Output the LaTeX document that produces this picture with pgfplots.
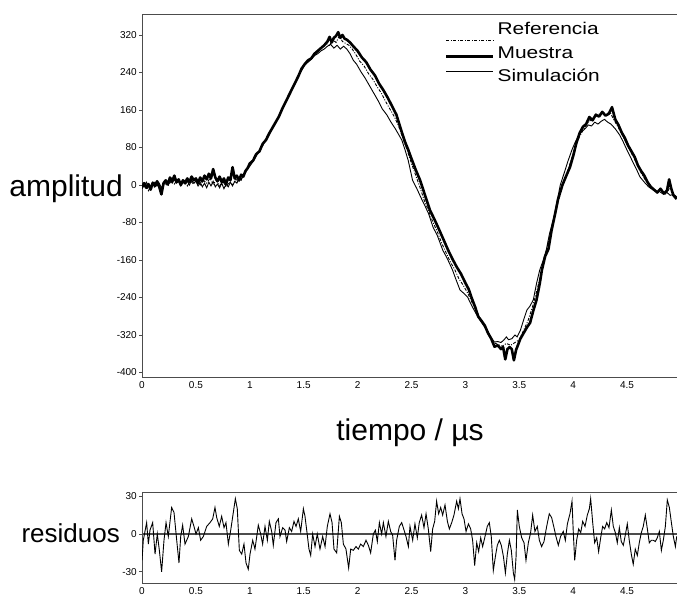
\documentclass[border=0pt]{standalone}
\usepackage{pgfplots}
\pgfplotsset{compat=1.18}
\usepackage{fontspec}
\setmainfont{Liberation Sans}
\newfontfamily\legfont{Liberation Sans}[FakeStretch=1.23]
\definecolor{axgray}{gray}{0.3}
\pgfplotsset{
  legA/.style={legend image code/.code={\draw[##1] (0bp,-10bp) -- (47bp,-10bp); \path (49bp,0bp);}},
  legB/.style={legend image code/.code={\draw[##1] (0bp,-2bp) -- (47bp,-2bp); \path (49bp,0bp);}},
  legC/.style={legend image code/.code={\draw[##1] (0bp,6bp) -- (47bp,6bp); \path (49bp,0bp);}},
  myaxis/.style={
    scale only axis, anchor=south west,
    width=535bp, xmin=0, xmax=4.963,
    axis x line=box, axis y line=left,
    axis line style={-, draw=axgray, line width=0.9bp},
    every outer x axis line/.append style={-},
    every outer y axis line/.append style={-},
    every inner x axis line/.append style={-},
    every inner y axis line/.append style={-},
    tick align=outside, major tick length=3bp,
    xtick pos=bottom, ytick pos=left,
    xtick style={draw=none}, ytick style={draw=axgray, line width=0.8bp},
    xtick={0,0.5,1,1.5,2,2.5,3,3.5,4,4.5},
    xticklabels={0,0.5,1,1.5,2,2.5,3,3.5,4,4.5},
    ticklabel style={font=\fontsize{10bp}{12bp}\selectfont},
    xticklabel style={yshift=2bp},
    yticklabel style={inner sep=2bp},
    clip=true,
  }
}
\begin{document}
\begin{tikzpicture}
\useasboundingbox (0,0) rectangle (677bp,601bp);
\begin{axis}[myaxis, at={(142bp,224bp)}, height=363bp,
  ymin=-409.6, ymax=364.8,
  ytick={-400,-320,-240,-160,-80,0,80,160,240,320},
  yticklabels={-400,-320,-240,-160,-80,0,80,160,240,320},
  legend style={draw=none, fill=none, at={(0.566,0.981)}, anchor=north west,
    inner sep=0pt, row sep=4.5bp, column sep=0bp,
    font=\legfont\fontsize{17bp}{20bp}\selectfont,
    nodes={inner sep=1bp, text height=12.5bp, text depth=4bp}},
  legend cell align=left,
]
\addplot[black, line width=0.9bp, dash pattern=on 3bp off 1.5bp on 1bp off 1.5bp, legA] coordinates {
(0.00,-8) (0.03,4) (0.06,-12) (0.09,2) (0.12,-6) (0.15,6) (0.18,-10) (0.21,4) (0.24,-2) (0.27,8)
(0.30,2) (0.33,12) (0.36,4) (0.39,10) (0.42,-2) (0.45,8) (0.48,2) (0.51,12) (0.54,0) (0.57,10)
(0.60,4) (0.63,14) (0.66,2) (0.69,10) (0.72,-2) (0.75,8) (0.78,-4) (0.81,6) (0.84,0) (0.87,12)
(0.90,8) (0.93,16) (0.96,26) (0.99,40) (1.02,48) (1.05,62) (1.08,70) (1.11,84) (1.14,94) (1.17,108)
(1.20,116) (1.23,130) (1.26,142) (1.29,156) (1.32,170) (1.35,184) (1.38,200) (1.41,212) (1.44,228) (1.47,240)
(1.50,254) (1.53,262) (1.56,266) (1.59,274) (1.62,282) (1.65,290) (1.68,296) (1.71,302) (1.74,298) (1.77,310)
(1.80,304) (1.83,318) (1.86,306) (1.89,302) (1.92,298) (1.95,290) (1.98,280) (2.02,264) (2.06,254) (2.10,238)
(2.14,226) (2.18,210) (2.22,196) (2.26,178) (2.30,162) (2.34,146) (2.38,126) (2.42,100) (2.46,74) (2.50,46)
(2.54,20) (2.58,-6) (2.62,-34) (2.66,-56) (2.70,-80) (2.74,-100) (2.78,-124) (2.82,-144) (2.86,-164) (2.90,-180)
(2.94,-200) (2.98,-214) (3.02,-230) (3.06,-250) (3.10,-268) (3.14,-286) (3.18,-298) (3.22,-318) (3.26,-336) (3.30,-340)
(3.34,-344) (3.38,-338) (3.42,-342) (3.46,-336) (3.50,-330) (3.54,-310) (3.58,-290) (3.62,-262) (3.66,-228) (3.70,-190)
(3.74,-150) (3.78,-112) (3.82,-72) (3.86,-36) (3.90,-4) (3.94,24) (3.98,52) (4.02,82) (4.06,104) (4.10,120)
(4.14,134) (4.18,142) (4.22,148) (4.26,154) (4.30,150) (4.34,156) (4.38,138) (4.42,122) (4.46,104) (4.50,86)
(4.54,68) (4.58,50) (4.62,30) (4.66,14) (4.70,0) (4.74,-8) (4.78,-14) (4.82,-10) (4.86,-20) (4.90,-4)
(4.93,-18) (4.96,-28)};
\addlegendentry{Referencia}
\addplot[black, line width=2.6bp, line join=round, legB] coordinates {
(0.00,-4) (0.02,4) (0.04,-6) (0.06,2) (0.08,-10) (0.10,5) (0.12,-2) (0.14,8) (0.16,-4) (0.18,-20)
(0.20,4) (0.22,10) (0.24,2) (0.26,16) (0.28,8) (0.30,20) (0.32,6) (0.34,12) (0.36,0) (0.38,10)
(0.40,4) (0.42,14) (0.44,6) (0.46,18) (0.48,10) (0.50,14) (0.52,4) (0.54,16) (0.56,8) (0.58,20)
(0.60,12) (0.62,24) (0.64,14) (0.66,34) (0.68,16) (0.70,8) (0.72,18) (0.74,6) (0.76,14) (0.78,2)
(0.80,16) (0.82,10) (0.84,38) (0.86,14) (0.88,20) (0.90,10) (0.92,22) (0.94,18) (0.96,30) (0.98,36)
(1.00,46) (1.03,52) (1.06,66) (1.09,72) (1.12,88) (1.15,96) (1.18,110) (1.21,122) (1.24,134) (1.27,146)
(1.30,162) (1.33,176) (1.36,190) (1.39,204) (1.42,218) (1.45,232) (1.48,248) (1.51,258) (1.54,266) (1.57,270)
(1.60,280) (1.63,286) (1.66,292) (1.69,298) (1.72,306) (1.74,316) (1.76,304) (1.78,314) (1.80,318) (1.82,326)
(1.84,314) (1.86,320) (1.88,312) (1.90,310) (1.93,304) (1.96,296) (2.00,286) (2.04,272) (2.08,262) (2.12,246)
(2.16,234) (2.20,216) (2.24,202) (2.28,186) (2.32,168) (2.36,150) (2.40,120) (2.44,92) (2.47,75) (2.50,56)
(2.54,32) (2.58,10) (2.62,-18) (2.67,-53) (2.71,-72) (2.75,-92) (2.80,-118) (2.84,-139) (2.88,-158) (2.92,-175)
(2.96,-190) (3.00,-209) (3.03,-222) (3.06,-242) (3.09,-260) (3.12,-281) (3.15,-290) (3.18,-300) (3.21,-316) (3.24,-328)
(3.27,-345) (3.30,-342) (3.33,-350) (3.35,-346) (3.37,-372) (3.39,-350) (3.41,-346) (3.43,-350) (3.45,-374) (3.47,-352)
(3.49,-340) (3.51,-328) (3.54,-316) (3.57,-304) (3.60,-294) (3.63,-268) (3.66,-245) (3.69,-210) (3.71,-181) (3.74,-152)
(3.77,-137) (3.80,-96) (3.83,-64) (3.86,-30) (3.90,0) (3.94,22) (3.97,38) (4.00,62) (4.03,90) (4.06,111)
(4.09,124) (4.12,130) (4.15,145) (4.18,138) (4.21,150) (4.24,146) (4.27,156) (4.30,148) (4.33,152) (4.36,166)
(4.39,140) (4.42,128) (4.45,112) (4.48,100) (4.51,84) (4.54,72) (4.57,60) (4.60,42) (4.63,30) (4.66,20)
(4.69,6) (4.72,-4) (4.75,-10) (4.78,-16) (4.81,-8) (4.84,-18) (4.87,-12) (4.89,12) (4.91,-8) (4.93,-22)
(4.96,-30)};
\addlegendentry{Muestra}
\addplot[black, line width=0.9bp, legC] coordinates {
(0.00,2) (0.02,-4) (0.04,6) (0.06,-2) (0.08,-8) (0.10,0) (0.12,6) (0.14,-2) (0.16,4) (0.18,-6)
(0.20,2) (0.22,8) (0.24,0) (0.26,10) (0.28,4) (0.30,12) (0.32,4) (0.34,8) (0.36,-2) (0.38,6)
(0.40,2) (0.42,8) (0.44,0) (0.46,10) (0.48,4) (0.50,8) (0.52,-2) (0.54,6) (0.56,-4) (0.58,4)
(0.60,-6) (0.62,6) (0.64,-2) (0.66,8) (0.68,-4) (0.70,2) (0.72,-6) (0.74,4) (0.76,-8) (0.78,2)
(0.80,-4) (0.82,6) (0.84,-2) (0.86,8) (0.88,4) (0.90,14) (0.92,10) (0.94,22) (0.96,28) (0.98,34)
(1.00,40) (1.03,50) (1.06,62) (1.09,74) (1.12,84) (1.15,98) (1.18,108) (1.21,124) (1.24,132) (1.27,148)
(1.30,160) (1.33,178) (1.36,188) (1.39,206) (1.42,216) (1.45,234) (1.48,244) (1.51,256) (1.54,262) (1.57,268)
(1.60,276) (1.63,280) (1.66,286) (1.69,290) (1.72,296) (1.75,300) (1.78,292) (1.81,298) (1.84,290) (1.87,296)
(1.90,290) (1.93,280) (1.96,266) (1.99,258) (2.03,242) (2.07,228) (2.11,212) (2.15,196) (2.19,180) (2.23,162)
(2.27,150) (2.31,134) (2.35,120) (2.38,108) (2.41,96) (2.44,75) (2.47,52) (2.51,10) (2.55,-8) (2.59,-28)
(2.63,-47) (2.66,-62) (2.70,-90) (2.74,-108) (2.79,-139) (2.83,-156) (2.88,-181) (2.91,-200) (2.95,-224) (2.98,-230)
(3.02,-239) (3.06,-258) (3.10,-275) (3.14,-290) (3.17,-300) (3.20,-310) (3.24,-326) (3.27,-335) (3.30,-334) (3.33,-336)
(3.36,-330) (3.38,-324) (3.40,-330) (3.43,-328) (3.46,-320) (3.48,-324) (3.51,-310) (3.54,-288) (3.57,-267) (3.60,-258)
(3.63,-245) (3.66,-210) (3.69,-181) (3.72,-162) (3.75,-139) (3.78,-104) (3.82,-70) (3.85,-36) (3.88,0) (3.92,28)
(3.95,50) (3.99,76) (4.02,92) (4.05,105) (4.08,114) (4.11,120) (4.14,128) (4.17,126) (4.20,134) (4.23,130)
(4.26,136) (4.29,140) (4.32,134) (4.35,130) (4.39,120) (4.43,107) (4.46,94) (4.50,74) (4.53,60) (4.56,46)
(4.59,32) (4.62,17) (4.66,6) (4.70,-4) (4.75,-12) (4.80,-14) (4.84,-20) (4.87,-16) (4.90,-22) (4.93,-20)
(4.96,-25)};
\addlegendentry{Simulación}
\end{axis}
\begin{axis}[myaxis, at={(142bp,18bp)}, height=91bp,
  ymin=-38.9, ymax=33.3,
  ytick={-30,0,30}, yticklabels={-30,0,30},
]
\addplot[axgray, line width=1.2bp] coordinates {(0,0) (4.963,0)};
\addplot[black, line width=0.9bp] coordinates {
(0.000,-21) (0.012,-5) (0.043,9) (0.059,-8) (0.074,3) (0.099,9) (0.121,-16) (0.142,0) (0.161,-13) (0.182,-30)
(0.204,-5) (0.223,9) (0.244,-2) (0.275,21) (0.297,17) (0.322,-5) (0.343,-23) (0.359,-2) (0.377,7) (0.399,-8)
(0.430,-2) (0.461,12) (0.482,6) (0.501,0) (0.523,5) (0.544,-5) (0.569,-2) (0.600,6) (0.631,9) (0.656,12)
(0.677,21) (0.693,13) (0.717,6) (0.739,14) (0.761,5) (0.779,9) (0.801,-8) (0.823,3) (0.847,17) (0.866,28)
(0.884,20) (0.903,-13) (0.925,-16) (0.946,-8) (0.965,-23) (0.986,-28) (1.002,-16) (1.027,-5) (1.048,-12) (1.079,7)
(1.101,0) (1.119,-8) (1.141,6) (1.163,-5) (1.181,10) (1.203,2) (1.218,-9) (1.243,9) (1.265,12) (1.280,-2)
(1.305,5) (1.327,3) (1.342,-6) (1.367,5) (1.388,2) (1.410,10) (1.429,6) (1.450,12) (1.472,2) (1.497,20)
(1.512,14) (1.528,3) (1.549,-12) (1.565,-17) (1.583,0) (1.605,-10) (1.626,0) (1.651,-12) (1.676,-2) (1.698,-10)
(1.719,6) (1.744,16) (1.763,9) (1.781,-12) (1.806,-15) (1.831,14) (1.849,9) (1.868,-8) (1.892,-12) (1.917,-27)
(1.936,-12) (1.960,-13) (1.985,-10) (2.007,-12) (2.028,-8) (2.053,-10) (2.078,-5) (2.100,-9) (2.121,-15) (2.146,0)
(2.165,3) (2.183,-6) (2.202,9) (2.223,0) (2.239,9) (2.263,-2) (2.285,10) (2.307,2) (2.325,-1) (2.347,-21)
(2.362,-5) (2.387,6) (2.409,9) (2.424,5) (2.449,-2) (2.471,-10) (2.486,6) (2.511,-5) (2.532,8) (2.554,-3)
(2.572,9) (2.594,15) (2.616,5) (2.635,16) (2.656,4) (2.678,-14) (2.696,4) (2.715,10) (2.733,26) (2.752,16)
(2.771,21) (2.789,15) (2.811,23) (2.833,10) (2.851,4) (2.873,9) (2.894,15) (2.919,26) (2.935,20) (2.950,28)
(2.969,16) (2.987,12) (3.006,2) (3.028,8) (3.049,4) (3.067,-5) (3.086,-25) (3.105,-7) (3.123,-14) (3.142,-3)
(3.160,-10) (3.182,-2) (3.203,6) (3.222,9) (3.240,-2) (3.259,-29) (3.278,-18) (3.296,-9) (3.315,-5) (3.333,-9)
(3.353,-18) (3.371,-31) (3.389,-16) (3.408,-5) (3.426,-13) (3.445,-31) (3.457,-36) (3.470,-18) (3.482,19) (3.500,6)
(3.522,-3) (3.544,-7) (3.562,-21) (3.584,-7) (3.605,1) (3.624,15) (3.645,2) (3.667,6) (3.686,-5) (3.707,-10)
(3.729,-6) (3.754,6) (3.778,16) (3.800,13) (3.822,5) (3.840,-2) (3.862,-9) (3.883,-2) (3.908,2) (3.927,-5)
(3.946,8) (3.970,16) (3.989,26) (4.001,1) (4.014,-21) (4.032,-5) (4.051,4) (4.070,1) (4.088,10) (4.110,6)
(4.131,15) (4.150,20) (4.162,28) (4.181,9) (4.199,-7) (4.218,-3) (4.236,-14) (4.255,-3) (4.273,6) (4.292,4)
(4.311,9) (4.332,5) (4.354,19) (4.372,6) (4.391,1) (4.409,-7) (4.428,5) (4.446,-6) (4.465,-9) (4.483,-1)
(4.502,8) (4.520,-5) (4.539,-16) (4.557,-24) (4.576,-12) (4.595,-17) (4.613,-7) (4.632,1) (4.650,6) (4.669,15)
(4.688,4) (4.706,-7) (4.725,-5) (4.743,-5) (4.762,-6) (4.780,-3) (4.799,2) (4.818,-13) (4.836,-5) (4.855,6)
(4.873,27) (4.892,21) (4.911,9) (4.929,-2) (4.948,-10) (4.960,-2)};
\end{axis}
\node[anchor=base east, font=\fontsize{30bp}{36bp}\selectfont, inner sep=0pt] at (123bp,404bp) {amplitud};
\node[anchor=base, font=\fontsize{30bp}{36bp}\selectfont, inner sep=0pt] at (410bp,160bp) {tiempo / µs};
\node[anchor=base east, font=\fontsize{26bp}{32bp}\selectfont, inner sep=0pt] at (120bp,58bp) {residuos};
\end{tikzpicture}
\end{document}
